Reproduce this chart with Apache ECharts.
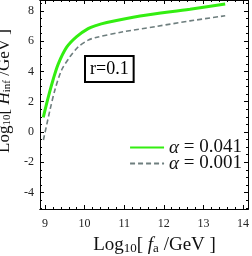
<!DOCTYPE html>
<html><head><meta charset="utf-8">
<script src="https://cdn.jsdelivr.net/npm/echarts@6/dist/echarts.min.js"></script>
<style>html,body{margin:0;padding:0;background:#fff}#c{width:252px;height:256px}</style>
</head><body><div id="c"></div>
<script>
var greenX = [8.957, 9.083, 9.21, 9.336, 9.548, 9.80, 10.09, 10.26, 10.56, 11.40, 12.66, 13.55];
var greenY = [0.97, 2.3, 3.5, 4.5, 5.6, 6.3, 6.82, 7.0, 7.22, 7.65, 8.1, 8.45];
var grayX = [8.96, 9.126, 9.25, 9.42, 9.63, 9.84, 10.09, 10.26, 10.97, 11.82, 12.66, 13.55];
var grayY = [-0.53, 1.45, 2.77, 4.09, 4.96, 5.62, 6.06, 6.22, 6.61, 6.97, 7.33, 7.67];
var xTickLabels = [9, 10, 11, 12, 13, 14];
var yTickLabels = [-4, -2, 0, 2, 4, 6, 8];
var seriesNames = ['α = 0.041', 'α = 0.001'];
var annotation = 'r=0.1';

function zip(a, b) { return a.map(function (v, i) { return [v, b[i]]; }); }
function steps(a, b, s) { var r = []; for (var v = a; v <= b + 1e-9; v += s) r.push(Math.round(v * 100) / 100); return r; }
var xMinor = steps(9, 14, 0.2);
var yMinor = steps(-5, 8.5, 0.5);

var XMIN = 8.874, XMAX = 14.126, YMIN = -5.08, YMAX = 8.71;
var serif = 'Liberation Serif';
var frame = { show: true, onZero: false, lineStyle: { color: '#000', width: 1 } };

function xAx(pos, ticks, len, labels) {
  return {
    type: 'value', position: pos, min: XMIN, max: XMAX,
    axisLine: frame, splitLine: { show: false },
    axisTick: { show: true, inside: true, length: len, customValues: ticks, lineStyle: { color: '#000' } },
    axisLabel: labels ? { show: true, customValues: xTickLabels, fontFamily: serif, fontSize: 12, color: '#222', margin: 9 } : { show: false }
  };
}
function yAx(pos, ticks, len, labels) {
  return {
    type: 'value', position: pos, min: YMIN, max: YMAX,
    axisLine: frame, splitLine: { show: false },
    axisTick: { show: true, inside: true, length: len, customValues: ticks, lineStyle: { color: '#000' } },
    axisLabel: labels ? { show: true, customValues: yTickLabels, fontFamily: serif, fontSize: 12, color: '#222', margin: 6 } : { show: false }
  };
}

var xAxes = [xAx('bottom', xTickLabels, 4, true), xAx('bottom', xMinor, 2, false), xAx('top', xTickLabels, 4, false), xAx('top', xMinor, 2, false)];
var yAxes = [yAx('left', yTickLabels, 4, true), yAx('left', yMinor, 2, false), yAx('right', yTickLabels, 4, false), yAx('right', yMinor, 2, false)];

xAxes[0].name = '{a|Log}{s|10}{a|[ }{i|f}{s|a}{a| /GeV ]}';
xAxes[0].nameLocation = 'middle';
xAxes[0].nameGap = 23;
xAxes[0].nameTextStyle = { padding: [0, 0, 0, 21], rich: {
  a: { fontFamily: serif, fontSize: 19, color: '#111', lineHeight: 22 },
  i: { fontFamily: serif, fontStyle: 'italic', fontSize: 19, color: '#111', lineHeight: 22 },
  s: { fontFamily: serif, fontSize: 13, color: '#111', lineHeight: 22, padding: [7, 0, 0, 0] }
} };
yAxes[0].name = '{a|Log}{s|10}{a|[ }{i|H}{s|inf}{a| /GeV ]}';
yAxes[0].nameLocation = 'middle';
yAxes[0].nameGap = 17;
yAxes[0].nameRotate = 90;
yAxes[0].nameTextStyle = { padding: [0, 0, 0, 27], rich: {
  a: { fontFamily: serif, fontSize: 17, color: '#111', lineHeight: 20 },
  i: { fontFamily: serif, fontStyle: 'italic', fontSize: 17, color: '#111', lineHeight: 20 },
  s: { fontFamily: serif, fontSize: 11, color: '#111', lineHeight: 20, padding: [7, 0, 0, 0] }
} };

var option = {
  animation: false,
  grid: { left: 40, right: 4, top: 0, bottom: 47, containLabel: false, outerBoundsMode: 'none' },
  xAxis: xAxes,
  yAxis: yAxes,
  legend: {
    orient: 'vertical', right: 5, top: 133, itemWidth: 34, itemHeight: 12, itemGap: -3,
    data: seriesNames,
    itemStyle: { opacity: 0 },
    formatter: function (n) { return '{i|α}{a| = ' + n.split('= ')[1] + '}'; },
    textStyle: { rich: {
      i: { fontFamily: serif, fontStyle: 'italic', fontSize: 19, color: '#111', lineHeight: 17 },
      a: { fontFamily: serif, fontSize: 19, color: '#111', lineHeight: 17 }
    } }
  },
  graphic: [{
    type: 'text', left: 84, top: 55, z: 10,
    style: { text: annotation, fontFamily: serif, fontSize: 18, fill: '#000',
      backgroundColor: '#fff', borderColor: '#000', borderWidth: 2, padding: [3, 4, 3, 4] }
  }],
  series: [
    { name: seriesNames[0], type: 'line', data: zip(greenX, greenY), symbol: 'none', smooth: 0.3,
      lineStyle: { color: '#33ee11', width: 3 }, itemStyle: { color: '#33ee11' }, z: 3 },
    { name: seriesNames[1], type: 'line', data: zip(grayX, grayY), symbol: 'none', smooth: 0.3,
      lineStyle: { color: '#6e7e7e', width: 1.6, type: [5, 3] }, itemStyle: { color: '#6e7e7e' }, z: 2 }
  ]
};
echarts.init(document.getElementById('c')).setOption(option);
</script></body></html>
